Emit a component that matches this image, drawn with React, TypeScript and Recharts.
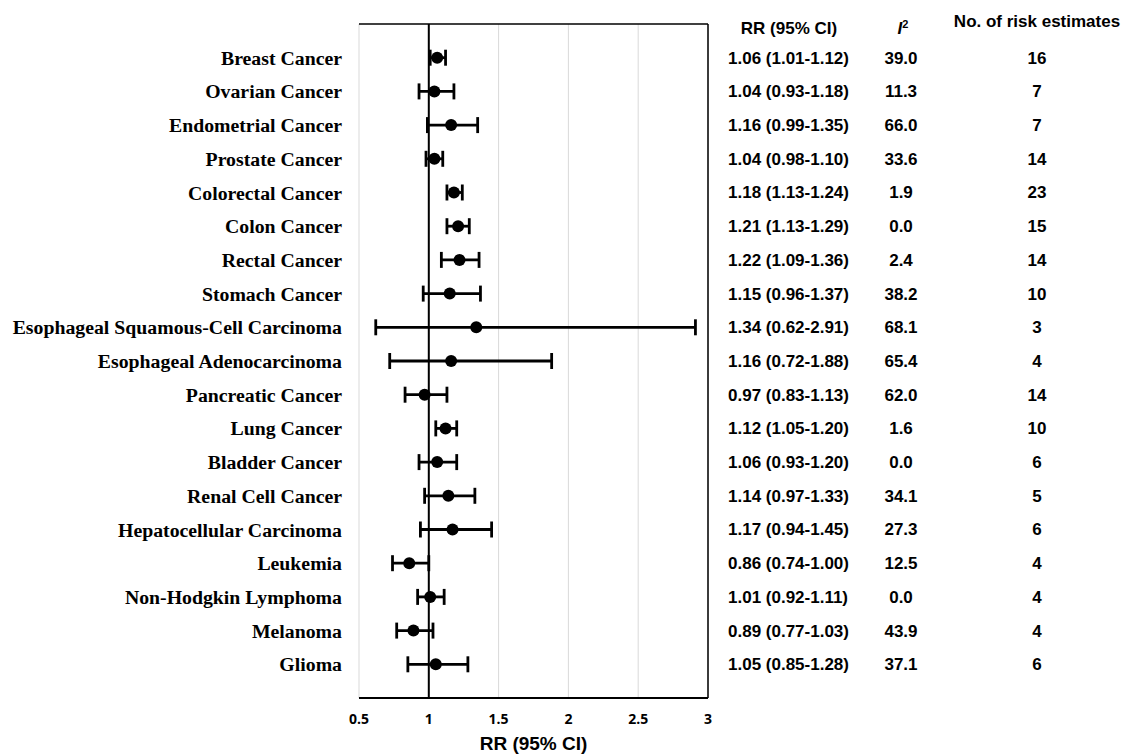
import React from "react";
import {
  ComposedChart,
  Scatter,
  ErrorBar,
  XAxis,
  YAxis,
  CartesianGrid,
  ReferenceLine,
} from "recharts";

const cancers = [
  "Breast Cancer",
  "Ovarian Cancer",
  "Endometrial Cancer",
  "Prostate Cancer",
  "Colorectal Cancer",
  "Colon Cancer",
  "Rectal Cancer",
  "Stomach Cancer",
  "Esophageal Squamous-Cell Carcinoma",
  "Esophageal Adenocarcinoma",
  "Pancreatic Cancer",
  "Lung Cancer",
  "Bladder Cancer",
  "Renal Cell Cancer",
  "Hepatocellular Carcinoma",
  "Leukemia",
  "Non-Hodgkin Lymphoma",
  "Melanoma",
  "Glioma",
];

const rr = [1.06, 1.04, 1.16, 1.04, 1.18, 1.21, 1.22, 1.15, 1.34, 1.16, 0.97, 1.12, 1.06, 1.14, 1.17, 0.86, 1.01, 0.89, 1.05];
const ciLow = [1.01, 0.93, 0.99, 0.98, 1.13, 1.13, 1.09, 0.96, 0.62, 0.72, 0.83, 1.05, 0.93, 0.97, 0.94, 0.74, 0.92, 0.77, 0.85];
const ciHigh = [1.12, 1.18, 1.35, 1.1, 1.24, 1.29, 1.36, 1.37, 2.91, 1.88, 1.13, 1.2, 1.2, 1.33, 1.45, 1.0, 1.11, 1.03, 1.28];
const iSquared = [39.0, 11.3, 66.0, 33.6, 1.9, 0.0, 2.4, 38.2, 68.1, 65.4, 62.0, 1.6, 0.0, 34.1, 27.3, 12.5, 0.0, 43.9, 37.1];
const nEstimates = [16, 7, 7, 14, 23, 15, 14, 10, 3, 4, 14, 10, 6, 5, 6, 4, 4, 4, 6];

const xTicks = [0.5, 1, 1.5, 2, 2.5, 3];

// row positions 1..19 on a 0..20 axis (top to bottom in vertical layout)
const rows = cancers.map((name, i) => ({
  name,
  pos: i + 1,
  rr: rr[i],
  err: [rr[i] - ciLow[i], ciHigh[i] - rr[i]],
  ciText: `${rr[i].toFixed(2)} (${ciLow[i].toFixed(2)}-${ciHigh[i].toFixed(2)})`,
  i2: iSquared[i].toFixed(1),
  n: nEstimates[i],
}));
const rowTicks = rows.map((r) => r.pos);

const arial = "'Liberation Sans', Arial, sans-serif";
const times = "'Liberation Serif', 'Times New Roman', serif";

function TableTick(props: any) {
  const { x, y, payload } = props;
  const row = rows[payload.value - 1];
  if (!row) return null;
  return (
    <g fontFamily={arial} fontSize={17} fontWeight="bold" fill="#000">
      <text x={x} y={y} dy="0.35em" textAnchor="start">
        {row.ciText}
      </text>
      <text x={x + 173} y={y} dy="0.35em" textAnchor="middle">
        {row.i2}
      </text>
      <text x={x + 309} y={y} dy="0.35em" textAnchor="middle">
        {row.n}
      </text>
    </g>
  );
}

function TableHeader(props: any) {
  const { x, y } = props.viewBox;
  return (
    <g fontFamily={arial} fontSize={17} fontWeight="bold" fill="#000">
      <text x={x + 81} y={y + 4} dy="0.35em" textAnchor="middle">
        RR (95% CI)
      </text>
      <text x={x + 195} y={y + 4} dy="0.35em" textAnchor="middle" fontStyle="italic">
        I
        <tspan fontSize={11} dy="-6" fontStyle="normal">
          2
        </tspan>
      </text>
      <text x={x + 329} y={y - 3} dy="0.35em" textAnchor="middle">
        No. of risk estimates
      </text>
    </g>
  );
}

const dot = (props: any) => <circle cx={props.cx} cy={props.cy} r={6} fill="#000" />;

export default function App() {
  return (
    <div style={{ position: "absolute", left: 0, top: 0 }}>
      <ComposedChart
        layout="vertical"
        width={1124}
        height={754}
        data={rows}
        margin={{ top: 24, right: 0, bottom: 0, left: 0 }}
      >
        <CartesianGrid horizontal={false} stroke="#d9d9d9" strokeWidth={1} />
        <XAxis
          type="number"
          dataKey="rr"
          domain={[0.5, 3]}
          ticks={xTicks}
          allowDataOverflow
          height={56}
          tickLine={false}
          tickMargin={10}
          axisLine={{ stroke: "#000", strokeWidth: 2 }}
          tick={{ fontFamily: "'Open Sans', sans-serif", fontSize: 14, fontWeight: 700, fill: "#000" }}
          label={{
            value: "RR (95% CI)",
            position: "insideBottom",
            offset: 4,
            style: { fontFamily: arial, fontSize: 19, fontWeight: "bold", fill: "#000" },
          }}
        />
        <YAxis
          type="number"
          dataKey="pos"
          domain={[0, 20]}
          allowDataOverflow
          ticks={rowTicks}
          interval={0}
          width={359}
          axisLine={false}
          tickLine={false}
          tickMargin={11}
          tickFormatter={(v: number) => cancers[v - 1]}
          tick={{ fontFamily: times, fontSize: 19.8, fontWeight: "bold", fill: "#000" }}
        />
        <YAxis
          yAxisId="table"
          orientation="right"
          type="number"
          dataKey="pos"
          domain={[0, 20]}
          allowDataOverflow
          ticks={rowTicks}
          interval={0}
          width={416}
          axisLine={{ stroke: "#000", strokeWidth: 1.5 }}
          tickLine={false}
          tickMargin={14}
          tick={<TableTick />}
          label={{ content: <TableHeader /> }}
        />
        <ReferenceLine y={0} stroke="#000" strokeWidth={1.5} />
        <ReferenceLine x={1} stroke="#000" strokeWidth={2} />
        <Scatter dataKey="rr" fill="#000" shape={dot} isAnimationActive={false}>
          <ErrorBar dataKey="err" direction="x" width={8} stroke="#000" strokeWidth={2.8} />
        </Scatter>
      </ComposedChart>
    </div>
  );
}
